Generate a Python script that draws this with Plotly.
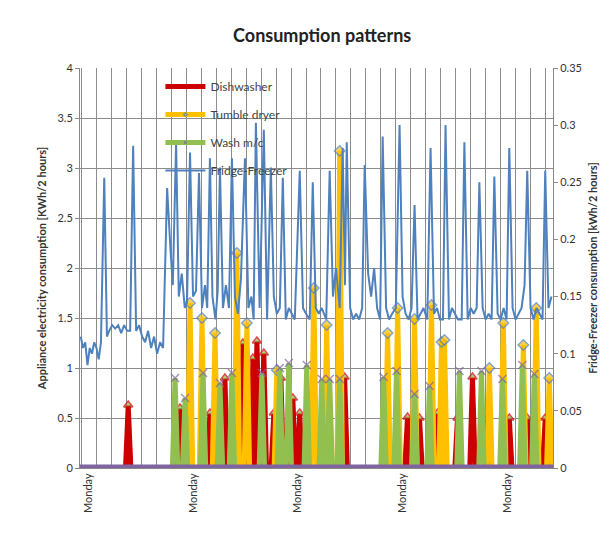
import plotly.graph_objects as go

# Fridge-freezer (right axis, kWh/2 hours): day, value
fridge_day = [-0.5,-0.35,-0.2,-0.05,0.1,0.25,0.4,0.55,0.7,0.85,1.07,1.25,1.4,1.6,1.8,2.0,2.2,2.4,2.6,2.8,3.0,3.2,3.4,3.6,3.8,4.0,4.2,4.4,4.6,4.8,5.0,5.27,5.5,5.65,5.87,6.05,6.25,6.45,6.6,6.8,7.0,7.2,7.4,7.6,7.8,7.95,8.13,8.3,8.5,8.65,8.8,9.0,9.2,9.4,9.6,9.8,10.0,10.2,10.47,10.7,10.9,11.05,11.2,11.45,11.73,11.95,12.2,12.4,12.6,12.8,13.0,13.2,13.4,13.6,13.8,14.13,14.35,14.55,14.8,15.0,15.2,15.4,15.6,15.9,16.13,16.35,16.55,16.8,17.0,17.15,17.27,17.5,17.7,17.9,18.1,18.3,18.47,18.7,18.9,19.1,19.3,19.5,19.67,19.9,20.1,20.3,20.55,20.8,21.0,21.2,21.4,21.6,21.8,22.0,22.2,22.4,22.65,22.87,23.1,23.3,23.5,23.7,23.87,24.1,24.3,24.5,24.7,24.95,25.13,25.35,25.55,25.75,25.95,26.13,26.35,26.55,26.75,26.95,27.13,27.35,27.55,27.75,27.95,28.13,28.35,28.55,28.75,28.95,29.15,29.33,29.55,29.75,29.95,30.15,30.35,30.53,30.75,30.95]
fridge_val = [0.115,0.105,0.11,0.09,0.105,0.1,0.11,0.105,0.095,0.11,0.254,0.115,0.12,0.125,0.122,0.125,0.118,0.125,0.12,0.12,0.282,0.12,0.125,0.115,0.11,0.12,0.105,0.115,0.1,0.11,0.105,0.245,0.19,0.16,0.284,0.15,0.17,0.14,0.145,0.276,0.15,0.155,0.258,0.14,0.16,0.14,0.271,0.15,0.13,0.155,0.263,0.14,0.16,0.14,0.271,0.15,0.135,0.165,0.271,0.14,0.15,0.13,0.302,0.14,0.296,0.13,0.263,0.15,0.135,0.14,0.254,0.13,0.14,0.135,0.13,0.26,0.14,0.135,0.13,0.25,0.14,0.135,0.14,0.13,0.26,0.15,0.175,0.14,0.28,0.16,0.285,0.14,0.13,0.135,0.13,0.14,0.265,0.17,0.15,0.175,0.14,0.13,0.29,0.14,0.13,0.135,0.14,0.30,0.15,0.135,0.13,0.14,0.23,0.13,0.135,0.14,0.13,0.28,0.135,0.14,0.13,0.13,0.30,0.13,0.14,0.135,0.13,0.13,0.285,0.13,0.14,0.135,0.14,0.25,0.14,0.13,0.135,0.13,0.255,0.135,0.13,0.14,0.13,0.28,0.14,0.13,0.135,0.14,0.16,0.26,0.14,0.13,0.14,0.135,0.13,0.26,0.14,0.15]

# Appliances (left axis, kWh/2 hours): event day, peak value
dish_day = [2.67,6.13,8.13,9.13,10.33,11.0,11.27,11.73,12.4,12.87,13.67,14.13,17.13,21.33,22.13,23.33,24.67,25.67,26.67,28.13,29.33,30.53]
dish_val = [0.63,0.6,0.55,0.9,1.25,1.1,1.27,1.15,0.55,0.9,0.7,0.55,0.91,0.51,0.5,0.55,0.5,0.91,0.5,0.5,0.5,0.5]
dryer_day = [6.8,7.6,8.47,9.93,10.6,12.6,15.07,15.93,16.8,20.0,20.67,21.8,22.93,23.6,23.8,26.8,27.73,29.07,29.93,30.8]
dryer_val = [1.65,1.5,1.35,2.15,1.45,0.98,1.8,1.43,3.17,1.35,1.6,1.49,1.63,1.26,1.28,1.0,1.45,1.23,1.6,0.9]
wash_day = [5.8,6.47,7.67,8.8,9.6,11.6,12.8,13.4,14.6,15.6,16.13,16.8,19.73,20.6,21.8,22.8,24.8,26.27,27.67,29.0,29.8]
wash_val = [0.9,0.7,0.95,0.85,0.95,0.95,1.0,1.05,1.03,0.89,0.89,0.89,0.91,0.97,0.74,0.82,0.97,0.97,0.89,1.03,0.94]

x_start, x_end = -0.55, 31.05

def spikes(days, vals, half=0.18):
    xs, ys, sz = [x_start], [0], [0]
    for d, v in zip(days, vals):
        xs += [d - half, d, d + half]
        ys += [0, v, 0]
        sz += [0, 8, 0]
    xs.append(x_end); ys.append(0); sz.append(0)
    return xs, ys, sz

fig = go.Figure()
for name, days, vals, col, sym, mcol, mline in [
    ("Dishwasher", dish_day, dish_val, "#cc0000", "triangle-up", "#9bbb59", "#cc0000"),
    ("Tumble dryer", dryer_day, dryer_val, "#ffc000", "diamond", "#ffc000", "#4f81bd"),
    ("Wash m/c", wash_day, wash_val, "#92c050", "x-thin", "#8064a2", "#8064a2"),
]:
    xs, ys, sz = spikes(days, vals)
    fig.add_trace(go.Scatter(x=xs, y=ys, name=name, mode="lines+markers", legendgroup=name,
        line=dict(color=col, width=5),
        marker=dict(symbol=sym, size=sz, color=mcol, line=dict(color=mline, width=1.5))))

fig.add_trace(go.Scatter(x=fridge_day, y=fridge_val, name="Fridge-Freezer", mode="lines",
    legendgroup="ff", line=dict(color="#4f81bd", width=2), yaxis="y2"))
fig.add_trace(go.Scatter(x=[x_start, x_end], y=[0, 0], mode="lines", showlegend=False,
    line=dict(color="#8064a2", width=7)))

font = "Lato, Liberation Sans, sans-serif"
fig.update_layout(
    width=616, height=541, paper_bgcolor="white", plot_bgcolor="white",
    margin=dict(l=72, r=71, t=60, b=81, autoexpand=False),
    font=dict(family=font, size=11, color="#333"),
    title=dict(text="<b>Consumption patterns</b>", x=0.51, xanchor="center", y=0.96,
               font=dict(size=18, color="#222")),
    showlegend=True,
    legend=dict(x=0.17, y=0.99, xanchor="left", yanchor="top", bgcolor="rgba(255,255,255,0)",
                font=dict(size=12, color="#444"), tracegroupgap=9, itemwidth=40),
    xaxis=dict(range=[x_start, x_end], tickvals=[0, 7, 14, 21, 28], ticktext=["Monday"] * 5,
               tickangle=-90, showgrid=False, zeroline=False, ticks="",
               showline=True, linecolor="#888",
               minor=dict(tick0=-0.45, dtick=1, showgrid=True, gridcolor="#8c8c8c", gridwidth=1.3)),
    yaxis=dict(range=[0, 4], dtick=0.5, gridcolor="#8c8c8c", gridwidth=1.3, zeroline=False,
               showline=True, linecolor="#888", ticks="outside", ticklen=4, tickcolor="#888",
               title=dict(text="<b>Appliance electricity consumption [KWh/2 hours]</b>",
                          font=dict(size=11), standoff=8)),
    yaxis2=dict(range=[0, 0.35], dtick=0.05, overlaying="y", side="right", showgrid=False,
                zeroline=False, showline=True, linecolor="#888", ticks="outside", ticklen=4,
                tickcolor="#888", tickformat="~g",
                title=dict(text="<b>Fridge-Freezer consumption [kWh/2 hours]</b>",
                           font=dict(size=11), standoff=8)),
)
fig.write_html("out.html")
